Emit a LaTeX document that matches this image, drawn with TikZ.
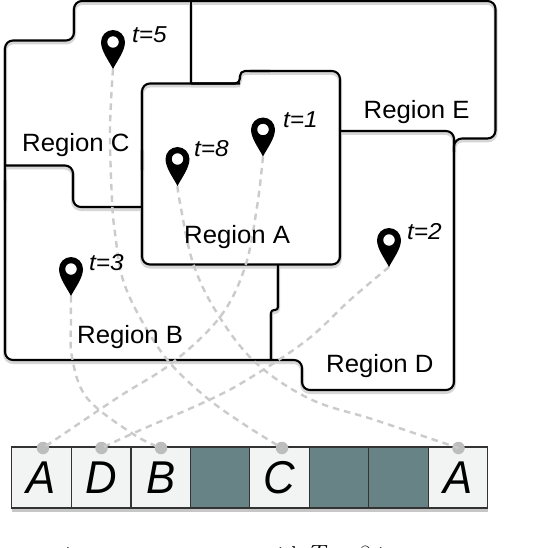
\documentclass[tikz,border=0pt]{standalone}
\usepackage{fontspec}
\setmainfont{Liberation Sans}
\newfontfamily\regfont[FakeStretch=1.03]{Liberation Sans}
\newfontfamily\tfont[FakeStretch=1.06]{Liberation Sans}
\newfontfamily\cellfont[FakeStretch=.95]{Liberation Sans}
\newfontfamily\capfont{Latin Modern Roman}
\definecolor{cellfill}{HTML}{F2F4F3}
\definecolor{celldark}{HTML}{688385}
\definecolor{traj}{HTML}{CBCBCB}
\newcommand{\regionpaths}[1]{%
  \draw[#1,rounded corners=8] (5,200) -- (5,40.5) -- (74,40.5) -- (74,1) -- (495.5,1) -- (495.5,138.5) -- (454,138.5) -- (454,152);
  \draw[#1] (191,1) -- (191,83.5);
  \draw[#1,rounded corners=8] (142,170) -- (142,83.5) -- (240,83.5);
  \draw[#1,rounded corners=5] (191,83.5) -- (240,83.5) -- (240,71) -- (270,71);
  \draw[#1,rounded corners=8] (250,71) -- (340,71) -- (340,264.5) -- (142,264.5) -- (142,150);
  \draw[#1,rounded corners=8] (340,131) -- (454,131) -- (454,390) -- (302,390) -- (302,360) -- (5,360) -- (5,180);
  \draw[#1,rounded corners=8] (5,165.5) -- (73,165.5) -- (73,207) -- (142,207);
  \draw[#1,rounded corners=3] (278,264.5) -- (278,310) -- (271,310) -- (271,360);
}
\tikzset{
  regionline/.style={black,line width=2.1pt},
  regionshadow/.style={black!16,line width=4pt,transform canvas={yshift=-2pt}},
  trajline/.style={traj,line width=2.4pt,dash pattern=on 6.5pt off 5pt},
  trajdot/.style={circle,fill=black!26,draw=none,minimum size=12.5pt,inner sep=0pt},
  cellbox/.style={draw=black!80,line width=1.3pt,fill=cellfill,minimum width=59.5pt,minimum height=61pt,inner sep=0pt,font=\cellfont\itshape\fontsize{46}{52}\selectfont},
  darkbox/.style={cellbox,fill=celldark},
  reglabel/.style={anchor=base west,inner sep=0pt,font=\regfont\fontsize{25}{30}\selectfont},
  tlabel/.style={anchor=base west,inner sep=0pt,font=\tfont\itshape\fontsize{23}{27}\selectfont},
  caplabel/.style={anchor=base west,inner sep=0pt,font=\capfont\fontsize{23}{28}\selectfont},
  pinmark/.pic={
    \fill[black,even odd rule] (0,0) .. controls (-4,-8) and (-12,-18) .. (-12,-27)
      .. controls (-12,-33.6) and (-6.6,-39) .. (0,-39)
      .. controls (6.6,-39) and (12,-33.6) .. (12,-27)
      .. controls (12,-18) and (4,-8) .. (0,0) -- cycle
      (0,-27) circle[radius=5.8];
  }
}
\begin{document}
\begin{tikzpicture}[x=1pt,y=-1pt]
\useasboundingbox (0,0) rectangle (534,548);
\fill[white] (0,0) rectangle (534,548);
\begin{scope}
\clip (0,0) rectangle (534,548);
\regionpaths{regionshadow}
\regionpaths{regionline}

% pin tips
\coordinate (p5) at (113,69);
\coordinate (p8) at (177.5,186);
\coordinate (p1) at (263,156.5);
\coordinate (p3) at (71,296);
\coordinate (p2) at (389,267);

% array shadow
\fill[black!22] (12,508) rectangle (488,512);
% array cells
\node[cellbox] (c1) at (41.5,477.5) {A};
\node[cellbox] (c2) at (101,477.5) {D};
\node[cellbox] (c3) at (161,477.5) {B};
\node[darkbox] (c4) at (220.5,477.5) {};
\node[cellbox] (c5) at (279.5,477.5) {C};
\node[darkbox] (c6) at (339,477.5) {};
\node[darkbox] (c7) at (398.5,477.5) {};
\node[cellbox] (c8) at (458,477.5) {A};

% dots
\node[trajdot] (d1) at (43,448) {};
\node[trajdot] (d2) at (101.5,448) {};
\node[trajdot] (d3) at (161,448) {};
\node[trajdot] (d5) at (282,448) {};
\node[trajdot] (d8) at (458.5,448) {};

% trajectories
\draw[trajline] plot[smooth,tension=.6] coordinates {(p5) (110,130) (112,200) (115,233) (123,280) (143,323) (170,363) (207,398) (245,425) (d5)};
\draw[trajline] plot[smooth,tension=.6] coordinates {(p8) (180,203) (193,263) (217,313) (255,362) (310,399) (375,420) (d8)};
\draw[trajline] plot[smooth,tension=.6] coordinates {(p1) (257,207) (245,267) (220,317) (172,363) (117,398) (d1)};
\draw[trajline] plot[smooth,tension=.6] coordinates {(p2) (350,300) (307,340) (250,378) (209,400) (136,432) (d2)};
\draw[trajline] plot[smooth,tension=.6] coordinates {(p3) (71,320) (72,357) (87,398) (133,434) (d3)};

% pins
\pic at (p5) {pinmark};
\pic at (p8) {pinmark};
\pic at (p1) {pinmark};
\pic at (p3) {pinmark};
\pic at (p2) {pinmark};

% labels
\node[reglabel] (rc) at (22,152) {Region C};
\node[reglabel] (re) at (363.5,119) {Region E};
\node[reglabel] (ra) at (184,243) {Region A};
\node[reglabel] (rb) at (77,343) {Region B};
\node[reglabel] (rd) at (326,372) {Region D};
\node[tlabel] (t5) at (132,43) {t=5};
\node[tlabel] (t8) at (194,157) {t=8};
\node[tlabel] (t1) at (283,128) {t=1};
\node[tlabel] (t3) at (89,270) {t=3};
\node[tlabel] (t2) at (407,239) {t=2};

% clipped caption line
\node[caplabel] (cap1) at (65,562) {i};
\node[caplabel] (cap2) at (262,562) {with $T=8$ in};
\end{scope}
\end{tikzpicture}
\end{document}
